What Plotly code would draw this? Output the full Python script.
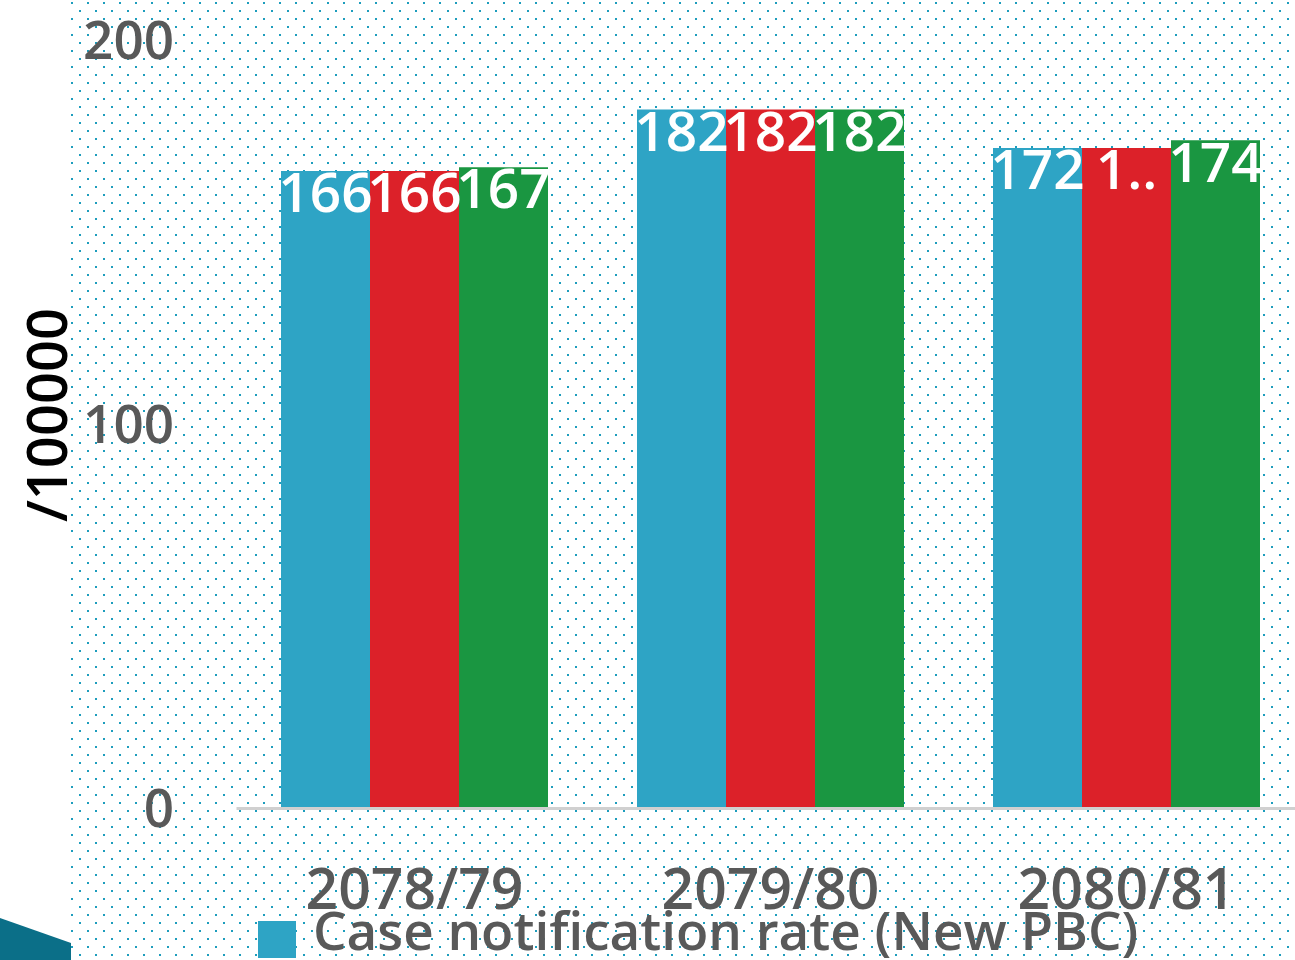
import base64
import numpy as np
import plotly.graph_objects as go

# ---- data ----
categories = ["2078/79", "2079/80", "2080/81"]
series_names = ["Case notification rate (New PBC)",
                "Case notification rate (All forms)",
                "Case notification rate (Total)"]
series_a = [166, 182, 172]
series_b = [166, 182, 172]
series_c = [167, 182, 174]
labels_a = ["166", "182", "172"]
labels_b = ["166", "182", "1.."]
labels_c = ["167", "182", "174"]
y_ticks = [0, 100, 200]

colors = ["#2ea4c5", "#dc2129", "#1a9641"]
FONT = "Open Sans"
GRAY = "#595959"
WT = 600

W, H = 1295, 960
L = 71
PW, PH = W - L, H

# dotted background pattern (svg)
svg = (
    f'<svg xmlns="http://www.w3.org/2000/svg" width="{PW}" height="{PH}">'
    '<defs><pattern id="p" width="16" height="16" patternUnits="userSpaceOnUse">'
    '<rect x="0" y="2" width="2" height="2" fill="#1d9dbd"/>'
    '<rect x="8" y="10" width="2" height="2" fill="#1d9dbd"/>'
    '</pattern></defs>'
    f'<rect width="{PW}" height="{PH}" fill="white"/>'
    f'<rect width="{PW}" height="{PH}" fill="url(#p)"/></svg>'
)
svg_uri = "data:image/svg+xml;base64," + base64.b64encode(svg.encode()).decode()

fig = go.Figure()
x_idx = np.arange(len(categories))
all_vals = [series_a, series_b, series_c]
all_labels = [labels_a, labels_b, labels_c]
bw = 0.25
for j, (vals, name, col) in enumerate(zip(all_vals, series_names, colors)):
    fig.add_trace(go.Bar(x=x_idx, y=vals, name=name, marker_color=col,
                         marker_line_width=0, showlegend=False))
for j, (vals, labs) in enumerate(zip(all_vals, all_labels)):
    fig.add_trace(go.Scatter(x=x_idx + (j - 1) * bw, y=vals, mode="text",
                             text=labs, textposition="bottom center",
                             textfont=dict(family=FONT, size=55, color="white", weight=WT),
                             showlegend=False, hoverinfo="skip", cliponaxis=False))

# baseline
fig.add_shape(type="line", xref="x", yref="y", x0=-0.5, x1=2.6, y0=0, y1=0,
              line=dict(color="#d0d0d0", width=3), layer="above")

# manual legend
fig.add_shape(type="rect", xref="paper", yref="paper",
              x0=(258 - L) / PW, x1=(296 - L) / PW,
              y0=1 - 958 / H, y1=1 - 921 / H,
              fillcolor=colors[0], line_width=0)
fig.add_annotation(xref="paper", yref="paper", x=(311 - L) / PW, y=1 - 929 / H,
                   xanchor="left", yanchor="middle", showarrow=False,
                   text=series_names[0],
                   font=dict(family=FONT, size=53, color=GRAY, weight=WT))

# y-axis title
fig.add_annotation(xref="paper", yref="paper", x=(45 - L) / PW, y=1 - 415 / H,
                   xanchor="center", yanchor="middle", showarrow=False,
                   text="/100000", textangle=-90,
                   font=dict(family=FONT, size=56, color="black", weight=WT))

# bottom-left decoration
fig.add_shape(type="path", xref="paper", yref="paper",
              path=f"M {-L/PW} {1-918/H} L 0 {1-943/H} L 0 0 L {-L/PW} 0 Z",
              fillcolor="#0b6f88", line_width=0)

fig.add_layout_image(source=svg_uri, xref="paper", yref="paper", x=0, y=1,
                     sizex=1, sizey=1, sizing="stretch", layer="below",
                     xanchor="left", yanchor="top")

px_per_unit = 3.84
zero_px = 808.5
y_lo = -(960 - zero_px) / px_per_unit
y_hi = zero_px / px_per_unit
x_lo = -(414.5 - L) / 356
x_hi = 2 + (W - 1126.5) / 356

fig.update_layout(
    width=W, height=H,
    margin=dict(l=L, r=0, t=0, b=0),
    paper_bgcolor="white", plot_bgcolor="rgba(0,0,0,0)",
    barmode="group", bargap=0.25, bargroupgap=0,
    xaxis=dict(range=[x_lo, x_hi], tickvals=list(x_idx), ticktext=categories,
               showgrid=False, zeroline=False, showline=False, ticks="",
               anchor="free", position=1 - 851 / H, automargin=False,
               ticklabeloverflow="allow",
               tickfont=dict(family=FONT, size=57, color=GRAY, weight=WT)),
    yaxis=dict(range=[y_lo, y_hi], tickvals=y_ticks, showgrid=False,
               zeroline=False, showline=False, ticks="",
               anchor="free", position=(174 - L) / PW, automargin=False,
               ticklabeloverflow="allow",
               tickfont=dict(family=FONT, size=53, color=GRAY, weight=WT)),
    showlegend=False,
)

fig.write_html("out.html", config={"displayModeBar": False},
               post_script="document.body.style.margin='0';document.body.style.overflow='hidden';")
